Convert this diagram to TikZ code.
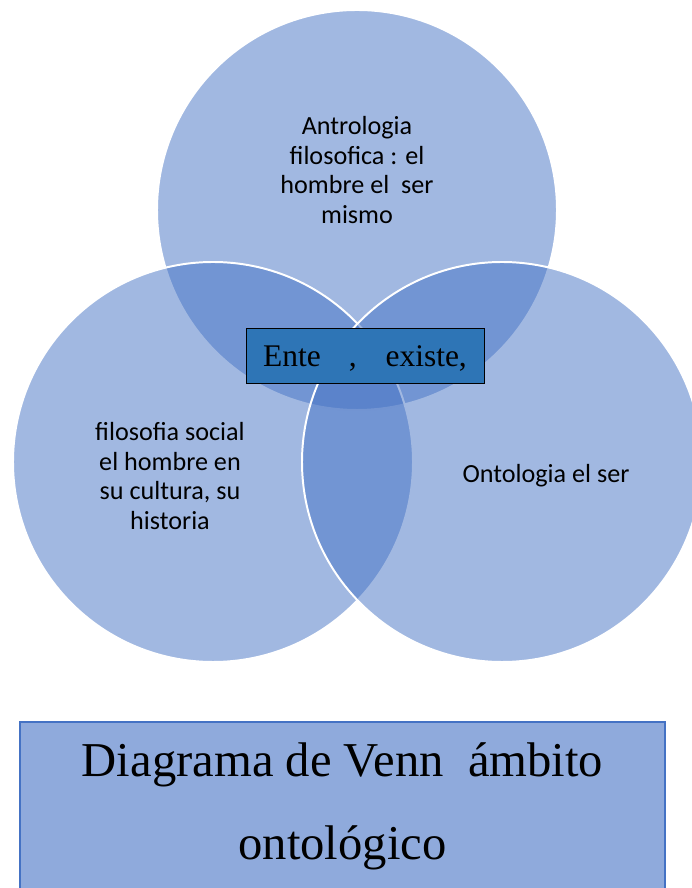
\documentclass[tikz,border=0pt]{standalone}
\usepackage{fontspec}
\setmainfont{Liberation Serif}
\newfontfamily\calibri{Carlito}
\usepackage{tikz}
\usetikzlibrary{positioning}
\definecolor{vennblue}{HTML}{4472C4}
\definecolor{entefill}{HTML}{2E75B6}
\definecolor{titlefill}{HTML}{8FAADC}

\begin{document}
\begin{tikzpicture}[venn/.style={circle, draw=white, line width=1.4pt, fill=vennblue, fill opacity=0.5, minimum size=10cm, inner sep=0pt},
                    lbl/.style={align=center, text=black, font=\calibri\fontsize{18.6}{21}\selectfont},
                    entebox/.style={draw=black, line width=0.6pt, fill=entefill, minimum width=5.95cm, minimum height=1.375cm, inner sep=0pt, text height=0.6cm, text depth=0.025cm, font=\fontsize{22.4}{26}\selectfont},
                    titlebox/.style={draw=vennblue, line width=1.4pt, fill=titlefill, minimum width=16.125cm, minimum height=4.45cm, inner sep=0pt}]
                    \useasboundingbox (0,0) rectangle (17.3,22.2);
                    % circles
                    \node[venn] (Arriba) at (8.925,16.95) {};
                    \node[venn] (Izq) at (5.325,10.65) {};
                    \node[venn] (Der) at (12.55,10.65) {};
                    % texts
                    \node[lbl] (Antro) at (8.925,17.95) {Antrologia\\filosofica : el\\hombre el\ \ ser\\mismo};
                    \node[lbl] (Social) at (4.25,10.3) {filosofia social\\el hombre en\\su cultura, su\\historia};
                    \node[lbl] (Onto) at (13.65,10.3) {Ontologia el ser};
                    \node[entebox] (Ente) at (9.125,13.3125) {Ente\hspace{0.7cm},\hspace{0.72cm}existe,};
                    % title
                    \node[titlebox] (Titulo) at (8.5625,1.925) {};
                    \node[align=center, font=\fontsize{34.6}{59}\selectfont] (TituloTxt) at (8.5625,2.05) {Diagrama de Venn\ \ ámbito\\ontológico};
                \end{tikzpicture}
\end{document}
